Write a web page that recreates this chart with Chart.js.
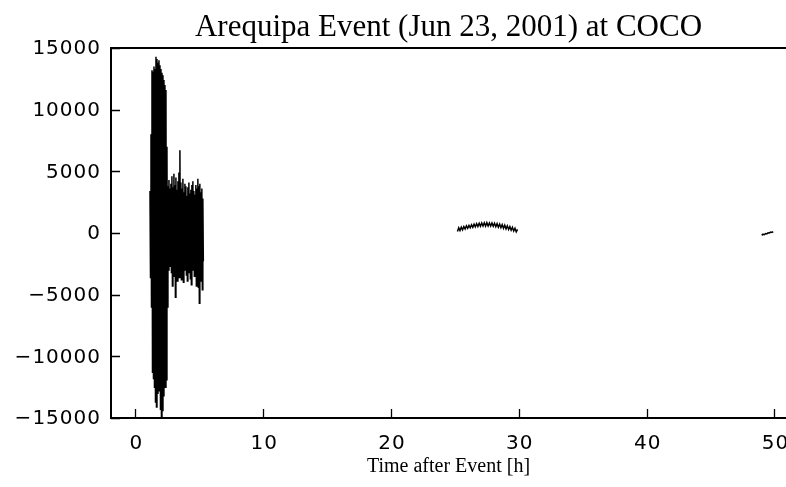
<!DOCTYPE html>
<html>
<head>
<meta charset="utf-8">
<script src="https://cdn.jsdelivr.net/npm/chart.js@4/dist/chart.umd.min.js"></script>
<style>
  html, body { margin: 0; padding: 0; background: #ffffff; }
  #wrap { width: 786px; height: 487px; }
</style>
</head>
<body>
<div id="wrap"><canvas id="c" width="786" height="487"></canvas></div>
<script>
// Station COCO record of the Arequipa event, counts vs hours after origin time.

// Main wave train: alternating peak / trough samples
const burstStartHour = 1.15;
const burstStepHour = 0.039;
const burstCounts = [
  3400, -3600, 8000, -6000, 13200, -11300, 13100, -11800, 13500, -12500,
  13300, -13700, 14300, -14100, 14100, -13000, 13800, -12200, 14000, -12800,
  13600, -14300, 13300, -15000, 13000, -14400, 12800, -13200, 12400, -12300,
  12000, -12500, 11600, -11900, 7000, -6000, 3800, -3000, 4300, -2400,
  3600, -2700, 4000, -3200, 4600, -4300, 3700, -3500, 4800, -2900,
  3900, -5200, 4500, -2500, 3500, -3900, 4200, -2800, 4900, -3600,
  6700, -3000, 4100, -3800, 3600, -2700, 4400, -4000, 3300, -3000,
  4000, -2600, 3800, -3400, 3000, -3900, 3700, -2800, 4100, -3200,
  3200, -3700, 3500, -4200, 3900, -3000, 4200, -2600, 3400, -3500,
  3100, -3100, 3900, -4300, 3600, -3800, 4400, -4400, 3800, -5700,
  4000, -3900, 3300, -2900, 3600, -4600, 2800, -2300
];

// Second recorded window (drift only)
const driftStartHour = 25.2;
const driftStepHour = 0.1;
const driftCounts = [
  120, 420, 200, 470, 260, 520, 320, 580, 380, 620,
  430, 670, 460, 720, 500, 760, 530, 790, 550, 810,
  570, 830, 560, 840, 570, 820, 560, 810, 540, 790,
  510, 760, 470, 720, 430, 680, 380, 630, 330, 580,
  280, 520, 220, 460, 160, 390, 90, 300
];

// Short window near the end of the record
const tailStartHour = 49.0;
const tailStepHour = 0.1;
const tailCounts = [-190, -100, -140, -50, -70, 20, 10, 80, 50, 120];

const xTickValues = [0, 10, 20, 30, 40, 50];
const yTickValues = [-15000, -10000, -5000, 0, 5000, 10000, 15000];

function toPoints(start, step, counts) {
  return counts.map((v, i) => ({ x: start + i * step, y: v }));
}

const tickFont = '20px "DejaVu Sans"';
const fmtY = v => (v < 0 ? '\u2212' + Math.abs(v) : String(v));

// Inward tick marks, top frame line and tick labels
const framePlugin = {
  id: 'frame',
  afterDraw(chart) {
    const ctx = chart.ctx;
    const { left, right, top, bottom } = chart.chartArea;
    const xs = chart.scales.x, ys = chart.scales.y;
    ctx.save();
    ctx.strokeStyle = '#000';
    ctx.lineWidth = 2;
    ctx.beginPath();
    ctx.moveTo(left - 1, top);
    ctx.lineTo(chart.width, top);
    ctx.stroke();

    ctx.lineWidth = 1.3;
    ctx.beginPath();
    xTickValues.forEach(v => {
      const px = Math.round(xs.getPixelForValue(v)) + 0.5;
      ctx.moveTo(px, bottom);
      ctx.lineTo(px, bottom - 9);
    });
    yTickValues.forEach(v => {
      const py = Math.round(ys.getPixelForValue(v)) + 0.5;
      ctx.moveTo(left, py);
      ctx.lineTo(left + 9, py);
    });
    ctx.stroke();

    ctx.fillStyle = '#000';
    ctx.font = tickFont;
    if ('letterSpacing' in ctx) ctx.letterSpacing = '1px';
    ctx.textBaseline = 'middle';
    ctx.textAlign = 'right';
    yTickValues.forEach(v => {
      ctx.fillText(fmtY(v), left - 10, ys.getPixelForValue(v) + 1);
    });
    ctx.textAlign = 'center';
    xTickValues.forEach(v => {
      ctx.fillText(String(v), xs.getPixelForValue(v) + 1, bottom + 26);
    });
    ctx.restore();
  }
};

const lineStyle = {
  borderColor: '#000',
  borderWidth: 1.5,
  pointRadius: 0,
  tension: 0,
  fill: false
};

new Chart(document.getElementById('c'), {
  type: 'line',
  data: {
    datasets: [
      Object.assign({ label: 'burst', data: toPoints(burstStartHour, burstStepHour, burstCounts) }, lineStyle),
      Object.assign({ label: 'drift', data: toPoints(driftStartHour, driftStepHour, driftCounts) }, lineStyle),
      Object.assign({ label: 'tail', data: toPoints(tailStartHour, tailStepHour, tailCounts) }, lineStyle)
    ]
  },
  options: {
    responsive: false,
    animation: false,
    devicePixelRatio: 1,
    layout: { padding: 0 },
    plugins: {
      legend: { display: false },
      tooltip: { enabled: false },
      title: {
        display: true,
        fullSize: false,
        text: 'Arequipa Event (Jun 23, 2001) at COCO',
        color: '#000',
        font: { family: '"Liberation Serif", "Times New Roman", serif', size: 31, weight: 'normal', lineHeight: 1 },
        padding: { top: 12, bottom: 5 }
      }
    },
    scales: {
      x: {
        type: 'linear',
        min: -1.9,
        max: 50.9,
        grid: { display: false, drawTicks: false },
        border: { display: true, color: '#000', width: 2 },
        ticks: { display: false },
        afterBuildTicks: s => { s.ticks = xTickValues.map(v => ({ value: v })); },
        afterFit: s => { s.height = 69; },
        title: {
          display: true,
          text: 'Time after Event [h]',
          color: '#000',
          font: { family: '"Liberation Serif", "Times New Roman", serif', size: 20, lineHeight: 1.2 },
          padding: { top: 0, bottom: 8 }
        }
      },
      y: {
        type: 'linear',
        min: -15000,
        max: 15000,
        grid: { display: false, drawTicks: false },
        border: { display: true, color: '#000', width: 2 },
        ticks: { display: false },
        afterBuildTicks: s => { s.ticks = yTickValues.map(v => ({ value: v })); },
        afterFit: s => { s.width = 111; }
      }
    }
  },
  plugins: [framePlugin]
});
</script>
</body>
</html>
